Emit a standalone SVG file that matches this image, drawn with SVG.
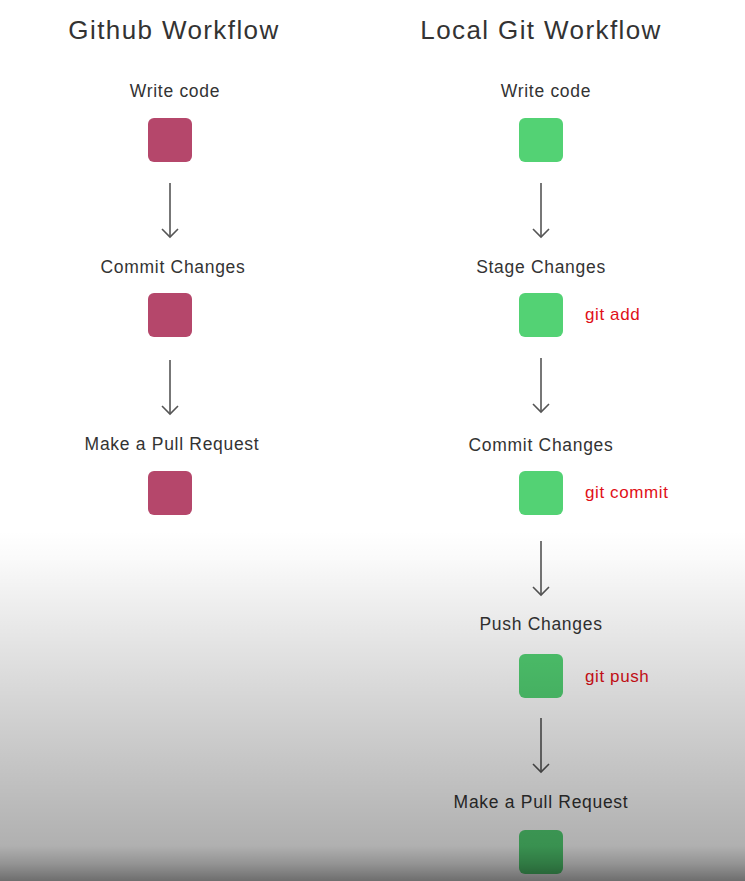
<svg xmlns="http://www.w3.org/2000/svg" width="745" height="881" viewBox="0 0 745 881">
  <defs>
    <style>
      .title { font-family: "Liberation Sans", "DejaVu Sans", sans-serif; font-size: 26px; fill: #333; text-anchor: middle; letter-spacing: 1.4px; }
      .label { font-family: "Liberation Sans", "DejaVu Sans", sans-serif; font-size: 17.5px; fill: #333; text-anchor: middle; letter-spacing: 0.7px; }
      .cmd { font-family: "Liberation Sans", "DejaVu Sans", sans-serif; font-size: 17px; fill: #e01018; letter-spacing: 0.6px; }
      .pink { fill: #b5476b; }
      .green { fill: #53d274; }
      .conn line { stroke: #555; stroke-width: 1.6; }
    </style>
    <marker id="arrow" viewBox="0 0 20 20" refX="10" refY="10" markerWidth="20" markerHeight="20" markerUnits="userSpaceOnUse" orient="auto">
      <path d="M2,2 L10,10 L2,18" fill="none" stroke="#555" stroke-width="1.6"/>
    </marker>
    <linearGradient id="shade" gradientUnits="userSpaceOnUse" x1="0" y1="530" x2="0" y2="881">
      <stop offset="0" stop-color="#000" stop-opacity="0"/>
      <stop offset="0.08" stop-color="#000" stop-opacity="0.02"/>
      <stop offset="0.5" stop-color="#000" stop-opacity="0.17"/>
      <stop offset="0.9" stop-color="#000" stop-opacity="0.31"/>
      <stop offset="0.95" stop-color="#000" stop-opacity="0.42"/>
      <stop offset="1" stop-color="#000" stop-opacity="0.57"/>
    </linearGradient>
  </defs>
  <rect x="0" y="0" width="745" height="881" fill="#ffffff"/>

  <text class="title" x="174" y="39">Github Workflow</text>
  <text class="title" x="541" y="39">Local Git Workflow</text>

  <g id="gh-write">
    <text class="label" x="175" y="97">Write code</text>
    <rect class="pink" x="148" y="118" width="44" height="44" rx="6"/>
  </g>
  <g id="gh-commit">
    <text class="label" x="173" y="273">Commit Changes</text>
    <rect class="pink" x="148" y="293" width="44" height="44" rx="6"/>
  </g>
  <g id="gh-pr">
    <text class="label" x="172" y="450">Make a Pull Request</text>
    <rect class="pink" x="148" y="471" width="44" height="44" rx="6"/>
  </g>

  <g id="lg-write">
    <text class="label" x="546" y="97">Write code</text>
    <rect class="green" x="519" y="118" width="44" height="44" rx="6"/>
  </g>
  <g id="lg-stage">
    <text class="label" x="541" y="273">Stage Changes</text>
    <rect class="green" x="519" y="293" width="44" height="44" rx="6"/>
    <text class="cmd" x="585" y="320">git add</text>
  </g>
  <g id="lg-commit">
    <text class="label" x="541" y="451">Commit Changes</text>
    <rect class="green" x="519" y="471" width="44" height="44" rx="6"/>
    <text class="cmd" x="585" y="498">git commit</text>
  </g>
  <g id="lg-push">
    <text class="label" x="541" y="630">Push Changes</text>
    <rect class="green" x="519" y="654" width="44" height="44" rx="6"/>
    <text class="cmd" x="585" y="682">git push</text>
  </g>
  <g id="lg-pr">
    <text class="label" x="541" y="808">Make a Pull Request</text>
    <rect class="green" x="519" y="830" width="44" height="44" rx="6"/>
  </g>

  <g id="connectors" class="conn">
    <line x1="170" y1="183" x2="170" y2="237" marker-end="url(#arrow)"/>
    <line x1="170" y1="360" x2="170" y2="414" marker-end="url(#arrow)"/>
    <line x1="541" y1="183" x2="541" y2="237" marker-end="url(#arrow)"/>
    <line x1="541" y1="358" x2="541" y2="412" marker-end="url(#arrow)"/>
    <line x1="541" y1="541" x2="541" y2="595" marker-end="url(#arrow)"/>
    <line x1="541" y1="718" x2="541" y2="772" marker-end="url(#arrow)"/>
  </g>

  <rect x="0" y="530" width="745" height="351" fill="url(#shade)" pointer-events="none"/>
</svg>
